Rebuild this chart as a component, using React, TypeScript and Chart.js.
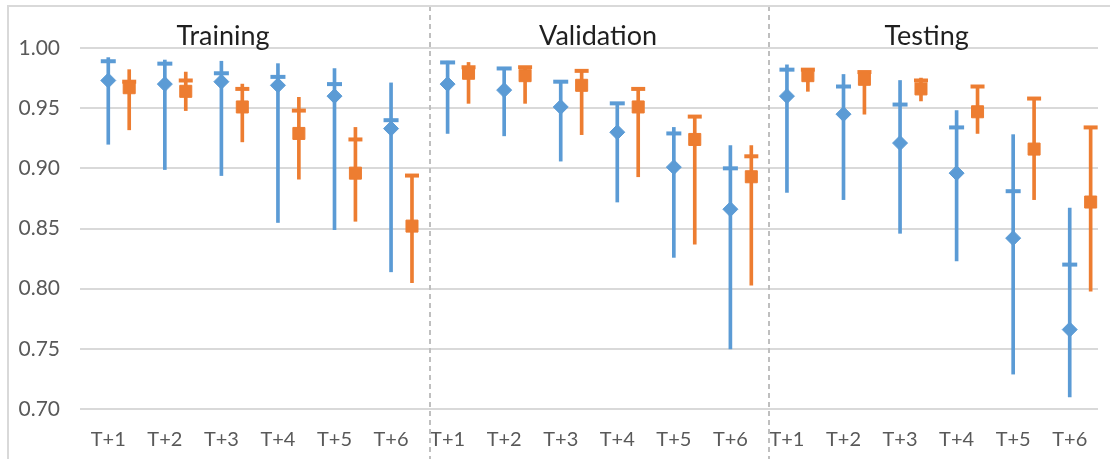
import React, { useEffect, useRef } from "react";
import { Chart, registerables } from "chart.js";

Chart.register(...registerables);

const groups = ["Training", "Validation", "Testing"];
const horizons = ["T+1", "T+2", "T+3", "T+4", "T+5", "T+6"];
const categories = groups.flatMap(() => horizons);

// Blue series
const blueMean = [
  0.973, 0.970, 0.972, 0.969, 0.960, 0.933,
  0.970, 0.965, 0.951, 0.930, 0.901, 0.866,
  0.960, 0.945, 0.921, 0.896, 0.842, 0.766,
];
const blueDash = [
  0.989, 0.987, 0.979, 0.976, 0.970, 0.940,
  0.988, 0.983, 0.972, 0.954, 0.929, 0.900,
  0.982, 0.968, 0.953, 0.934, 0.881, 0.820,
];
const blueMax = [
  0.992, 0.990, 0.989, 0.987, 0.983, 0.971,
  0.989, 0.983, 0.972, 0.954, 0.934, 0.919,
  0.986, 0.978, 0.973, 0.948, 0.928, 0.867,
];
const blueMin = [
  0.920, 0.899, 0.894, 0.855, 0.849, 0.814,
  0.929, 0.927, 0.906, 0.872, 0.826, 0.750,
  0.880, 0.874, 0.846, 0.823, 0.729, 0.710,
];

// Orange series
const orangeMean = [
  0.967, 0.964, 0.951, 0.929, 0.896, 0.852,
  0.979, 0.977, 0.969, 0.951, 0.924, 0.893,
  0.977, 0.974, 0.966, 0.947, 0.916, 0.872,
];
const orangeDash = [
  0.972, 0.973, 0.966, 0.948, 0.924, 0.894,
  0.984, 0.984, 0.981, 0.966, 0.943, 0.910,
  0.982, 0.980, 0.973, 0.968, 0.958, 0.934,
];
const orangeMax = [
  0.982, 0.980, 0.970, 0.959, 0.934, 0.895,
  0.988, 0.984, 0.981, 0.966, 0.943, 0.919,
  0.982, 0.980, 0.975, 0.968, 0.958, 0.934,
];
const orangeMin = [
  0.932, 0.948, 0.922, 0.891, 0.856, 0.805,
  0.954, 0.954, 0.928, 0.893, 0.837, 0.803,
  0.964, 0.945, 0.956, 0.929, 0.874, 0.798,
];

const yTicks = [0.7, 0.75, 0.8, 0.85, 0.9, 0.95, 1.0];

const BLUE = "#5B9BD5";
const ORANGE = "#ED7D31";
const ORANGE_SHIFT = 0.37;
const SEPARATORS = [5.68, 11.68];
const TITLE_X = [2.03, 8.66, 14.47];
const FONT = "Lato, 'Open Sans', sans-serif";

const decorPlugin = {
  id: "decor",
  beforeDatasetsDraw(chart: any) {
    const { ctx, scales } = chart;
    ctx.save();
    ctx.strokeStyle = "#BFBFBF";
    ctx.lineWidth = 2;
    ctx.setLineDash([5, 4]);
    SEPARATORS.forEach((v) => {
      const x = Math.round(scales.x.getPixelForValue(v));
      ctx.beginPath();
      ctx.moveTo(x, 6);
      ctx.lineTo(x, chart.height);
      ctx.stroke();
    });
    ctx.restore();
  },
  afterDraw(chart: any) {
    const { ctx, scales } = chart;
    ctx.save();
    // outer frame (top & left visible)
    ctx.strokeStyle = "#D9D9D9";
    ctx.lineWidth = 2;
    ctx.beginPath();
    ctx.moveTo(chart.width, 6);
    ctx.lineTo(8, 6);
    ctx.lineTo(8, chart.height);
    ctx.stroke();
    // group titles
    ctx.fillStyle = "#1F1F1F";
    ctx.font = `27px ${FONT}`;
    ctx.textAlign = "center";
    ctx.textBaseline = "alphabetic";
    groups.forEach((g, i) => {
      ctx.fillText(g, scales.x.getPixelForValue(TITLE_X[i]), 45);
    });
    ctx.restore();
  },
};

export default function App() {
  const ref = useRef<HTMLCanvasElement | null>(null);

  useEffect(() => {
    document.body.style.margin = "0";
    if (!ref.current) return;
    const bx = categories.map((_, i) => i);
    const ox = categories.map((_, i) => i + ORANGE_SHIFT);

    const chart = new Chart(ref.current, {
      type: "scatter",
      data: {
        datasets: [
          {
            type: "bar",
            label: "blue range",
            data: bx.map((x, i) => ({ x, y: [blueMin[i], blueMax[i]] })) as any,
            backgroundColor: BLUE,
            borderWidth: 0,
            barThickness: 3,
            grouped: false,
            order: 3,
          } as any,
          {
            type: "bar",
            label: "orange range",
            data: ox.map((x, i) => ({ x, y: [orangeMin[i], orangeMax[i]] })) as any,
            backgroundColor: ORANGE,
            borderWidth: 0,
            barThickness: 3,
            grouped: false,
            order: 3,
          } as any,
          {
            type: "scatter",
            label: "blue dash",
            data: bx.map((x, i) => ({ x, y: blueDash[i] })),
            pointStyle: "line",
            pointRadius: 7.5,
            borderColor: BLUE,
            backgroundColor: BLUE,
            pointBorderWidth: 4,
            order: 2,
          },
          {
            type: "scatter",
            label: "orange dash",
            data: ox.map((x, i) => ({ x, y: orangeDash[i] })),
            pointStyle: "line",
            pointRadius: 7,
            borderColor: ORANGE,
            backgroundColor: ORANGE,
            pointBorderWidth: 4,
            order: 2,
          },
          {
            type: "scatter",
            label: "blue mean",
            data: bx.map((x, i) => ({ x, y: blueMean[i] })),
            pointStyle: "rectRot",
            pointRadius: 7.5,
            borderColor: BLUE,
            backgroundColor: BLUE,
            pointBorderWidth: 1,
            order: 1,
          },
          {
            type: "scatter",
            label: "orange mean",
            data: ox.map((x, i) => ({ x, y: orangeMean[i] })),
            pointStyle: "rect",
            pointRadius: 8.5,
            borderColor: ORANGE,
            backgroundColor: ORANGE,
            pointBorderWidth: 1,
            borderJoinStyle: "round",
            order: 1,
          } as any,
        ],
      },
      options: {
        animation: false,
        responsive: false,
        events: [],
        layout: { padding: { top: 48, right: 12, left: 0, bottom: 0 } },
        plugins: {
          legend: { display: false },
          tooltip: { enabled: false },
          title: { display: false },
        },
        scales: {
          x: {
            type: "linear",
            min: -0.5,
            max: 17.5,
            offset: false,
            grid: { display: false, drawTicks: false, offset: false },
            border: { display: false },
            afterBuildTicks: (scale: any) => {
              scale.ticks = categories.map((_, i) => ({ value: i }));
            },
            afterFit: (scale: any) => {
              scale.height = 50;
            },
            ticks: {
              autoSkip: false,
              maxRotation: 0,
              padding: 19,
              color: "#595959",
              font: { family: FONT, size: 20 },
              callback: (v: any) => categories[Math.round(Number(v))] ?? "",
            },
          },
          y: {
            type: "linear",
            min: 0.7,
            max: 1.0,
            afterBuildTicks: (scale: any) => {
              scale.ticks = yTicks.map((v) => ({ value: v }));
            },
            afterFit: (scale: any) => {
              scale.width = 80;
            },
            grid: { color: "#D9D9D9", lineWidth: 2, drawTicks: false },
            border: { display: false },
            ticks: {
              padding: 20,
              color: "#595959",
              font: { family: FONT, size: 21 },
              callback: (v: any) => Number(v).toFixed(2),
            },
          },
        },
      },
      plugins: [decorPlugin],
    } as any);

    return () => chart.destroy();
  }, []);

  return (
    <div style={{ position: "absolute", left: 0, top: 0, width: 1110, height: 459 }}>
      <canvas ref={ref} width={1110} height={459} />
    </div>
  );
}
